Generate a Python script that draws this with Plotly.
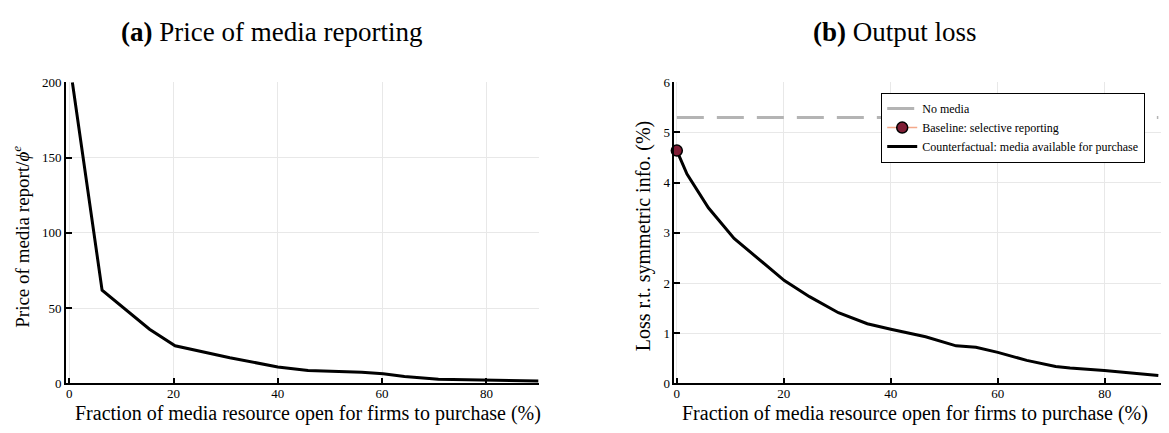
import plotly.graph_objects as go

# ---------------- data ----------------
frac_price = [0.6, 6.3, 15.4, 20.3, 30.8, 40.0, 45.8, 56.1, 60.2, 64.3, 70.8, 80.0, 90.0]
price = [200, 62, 36, 25, 17.1, 11, 8.6, 7.5, 6.4, 4.7, 2.8, 2.3, 1.7]

frac_loss = [0, 1.9, 5.9, 10.7, 20.1, 24.8, 30.2, 35.6, 40.0, 46.5, 52.2, 55.9, 60.0,
             65.4, 70.8, 73.5, 79.9, 90.0]
loss = [4.64, 4.17, 3.5, 2.89, 2.05, 1.73, 1.41, 1.19, 1.08, 0.93, 0.75, 0.72, 0.62,
        0.46, 0.34, 0.31, 0.26, 0.16]

no_media_x = [0, 90]
no_media_y = [5.3, 5.3]

baseline_x = [0]
baseline_y = [4.64]

x_ticks = [0, 20, 40, 60, 80]
price_ticks = [0, 50, 100, 150, 200]
loss_ticks = [0, 1, 2, 3, 4, 5, 6]

FONT = "Liberation Serif"
W, H = 1169, 433

fig = go.Figure()

fig.add_trace(go.Scatter(x=frac_price, y=price, mode="lines",
                         line=dict(color="black", width=3),
                         showlegend=False, xaxis="x", yaxis="y"))

fig.add_trace(go.Scatter(x=no_media_x, y=no_media_y, mode="lines", name="No media",
                         line=dict(color="#b4b4b4", width=3, dash="27px,13px"),
                         legendrank=1, xaxis="x2", yaxis="y2"))
fig.add_trace(go.Scatter(x=frac_loss, y=loss, mode="lines",
                         name="Counterfactual: media available for purchase",
                         line=dict(color="black", width=3),
                         legendrank=3, xaxis="x2", yaxis="y2"))
fig.add_trace(go.Scatter(x=baseline_x, y=baseline_y, mode="lines+markers",
                         name="Baseline: selective reporting",
                         line=dict(color="#f4a98a", width=1.5),
                         marker=dict(size=11, color="#7f1d35",
                                     line=dict(color="black", width=1.5)),
                         cliponaxis=False, legendrank=2,
                         xaxis="x2", yaxis="y2"))

axis_common = dict(
    showline=True, linecolor="black", linewidth=1.5,
    ticks="inside", ticklen=6, tickwidth=1.5, tickcolor="black",
    showgrid=True, gridcolor="#e8e8e8", gridwidth=1,
    zeroline=False, mirror=False,
    tickfont=dict(family=FONT, size=13, color="black"),
)

y0 = (H - 390) / H
y1 = (H - 78) / H

fig.update_layout(
    width=W, height=H,
    margin=dict(l=0, r=0, t=0, b=0),
    paper_bgcolor="white", plot_bgcolor="white",
    font=dict(family=FONT, color="black"),
    xaxis=dict(domain=[65 / W, 538 / W], range=[-0.63, 90.0],
               tickvals=x_ticks, anchor="y", ticklabelstandoff=-3, **axis_common),
    yaxis=dict(domain=[y0, y1], range=[0, 200], tickvals=price_ticks,
               anchor="x", **axis_common),
    xaxis2=dict(domain=[674 / W, 1161 / W], range=[-0.45, 90.5],
                tickvals=x_ticks, anchor="y2", ticklabelstandoff=-3, **axis_common),
    yaxis2=dict(domain=[y0, y1], range=[0, 6], tickvals=loss_ticks,
                anchor="x2", **axis_common),
    legend=dict(x=1145 / W, xanchor="right", y=(H - 89) / H, yanchor="top",
                bgcolor="white", bordercolor="black", borderwidth=1.2,
                font=dict(family=FONT, size=12, color="black"),
                tracegroupgap=0, itemwidth=30),
    showlegend=True,
)

xlabel = "Fraction of media resource open for firms to purchase (%)"
annots = [
    dict(text="<b>(a)</b> Price of media reporting", x=271 / W, y=(H - 26) / H,
         font=dict(size=27)),
    dict(text="<b>(b)</b> Output loss", x=895 / W, y=(H - 26) / H,
         font=dict(size=27)),
    dict(text=xlabel, x=307 / W, y=(H - 421) / H, font=dict(size=20)),
    dict(text=xlabel, x=915 / W, y=(H - 421) / H, font=dict(size=20)),
    dict(text="Price of media report/<i>ϕ</i><sup><i>e</i></sup>", x=20 / W,
         y=(H - 238) / H, textangle=-90, font=dict(size=19)),
    dict(text="Loss r.t. symmetric info. (%)", x=643 / W, y=(H - 237) / H,
         textangle=-90, font=dict(size=20)),
]
for a in annots:
    a.update(xref="paper", yref="paper", showarrow=False,
             xanchor="center", yanchor="middle")
    a["font"].update(family=FONT, color="black")
fig.update_layout(annotations=annots)

fig.write_html("out.html")
